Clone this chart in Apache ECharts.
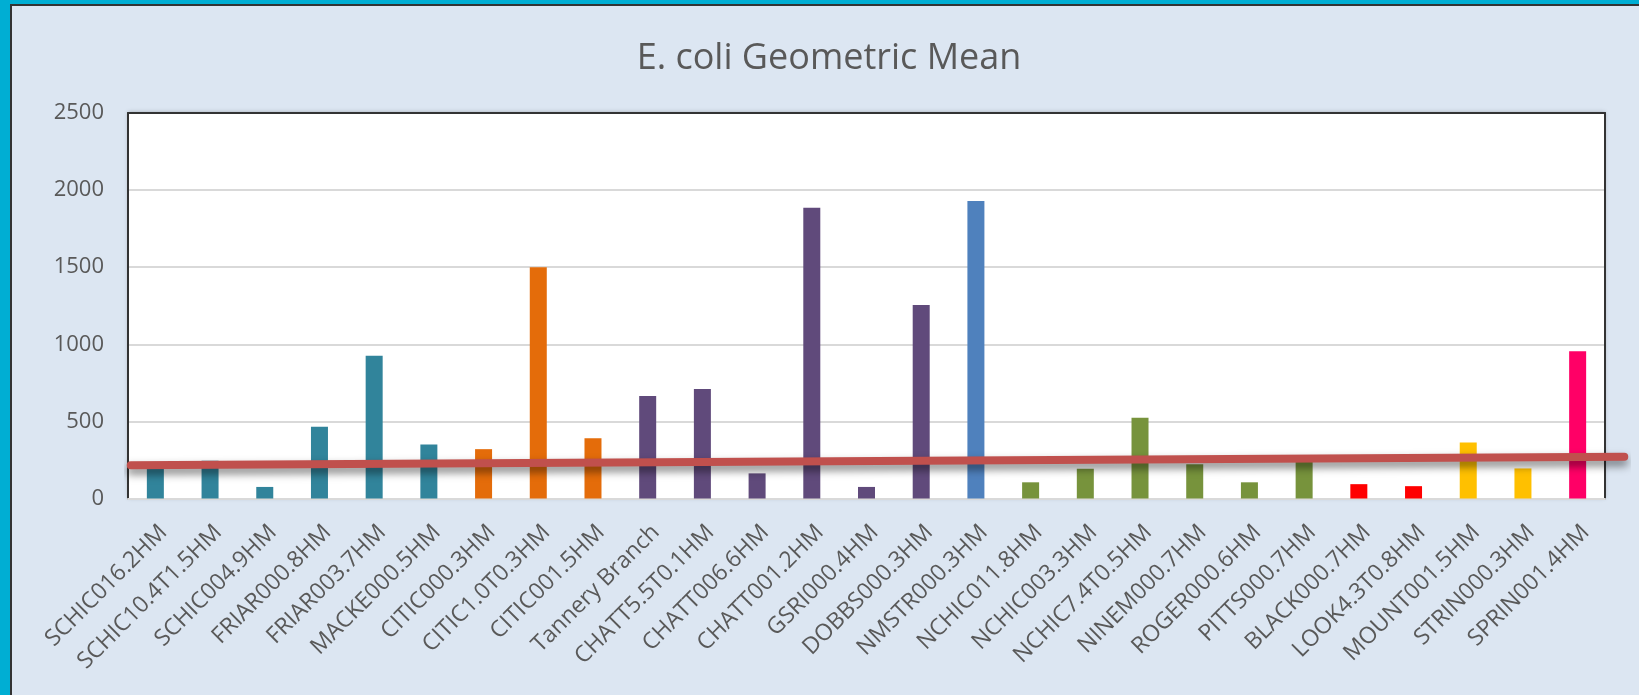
<!DOCTYPE html>
<html>
<head>
<meta charset="utf-8">
<script src="https://cdn.jsdelivr.net/npm/echarts@6/dist/echarts.min.js"></script>
<style>
html,body{margin:0;padding:0;background:#00aed3;}
#chart{width:1639px;height:695px;}
</style>
</head>
<body>
<div id="chart"></div>
<script>
// ---- data ----
const categories = ['SCHIC016.2HM','SCHIC10.4T1.5HM','SCHIC004.9HM','FRIAR000.8HM','FRIAR003.7HM','MACKE000.5HM','CITIC000.3HM','CITIC1.0T0.3HM','CITIC001.5HM','Tannery Branch','CHATT5.5T0.1HM','CHATT006.6HM','CHATT001.2HM','GSRI000.4HM','DOBBS000.3HM','NMSTR000.3HM','NCHIC011.8HM','NCHIC003.3HM','NCHIC7.4T0.5HM','NINEM000.7HM','ROGER000.6HM','PITTS000.7HM','BLACK000.7HM','LOOK4.3T0.8HM','MOUNT001.5HM','STRIN000.3HM','SPRIN001.4HM'];
const geoMean = [200,245,75,465,925,350,320,1500,390,665,710,163,1885,75,1255,1930,105,193,523,222,105,240,93,80,363,195,955];
const groups = ['SCHIC','SCHIC','SCHIC','SCHIC','SCHIC','SCHIC','CITIC','CITIC','CITIC','CHATT','CHATT','CHATT','CHATT','CHATT','CHATT','NMSTR','NCHIC','NCHIC','NCHIC','NCHIC','NCHIC','NCHIC','LOOK','LOOK','MOUNT','MOUNT','SPRIN'];
const trendX = [-0.45, 26.85];
const trendY = [215, 270];
const yTicks = [0, 500, 1000, 1500, 2000, 2500];

// ---- styles ----
const groupColors = {SCHIC:'#31849b', CITIC:'#e46c0a', CHATT:'#604a7b', NMSTR:'#4f81bd', NCHIC:'#77933c', LOOK:'#ff0000', MOUNT:'#ffc000', SPRIN:'#ff0066'};
const FONT = '"Open Sans", "Noto Sans", sans-serif';
const yMin = yTicks[0], yMax = yTicks[yTicks.length-1];

const chart = echarts.init(document.getElementById('chart'), null, {renderer:'canvas'});
chart.setOption({
  backgroundColor: '#00aed3',
  animation: false,
  graphic: [
    {type:'rect', z:-100, silent:true, shape:{x:11, y:5, width:1640, height:700},
     style:{fill:'#dce6f2', stroke:'#333333', lineWidth:2}}
  ],
  title: {
    text: 'E. coli Geometric Mean',
    left: 824, top: 36, textAlign: 'center',
    textStyle: {fontFamily: FONT, fontSize: 36, fontWeight: 'normal', color: '#595959'}
  },
  grid: [{
    left: 128, top: 113, right: 34, bottom: 196.5,
    show: true, backgroundColor: '#ffffff', borderWidth: 0,
    shadowColor: 'rgba(0,0,0,0.25)', shadowBlur: 4, shadowOffsetY: -1
  }, {
    // trendline extends a little past the plot area, as in the source
    left: 128, top: 113, right: 12, bottom: 196.5, show: false
  }],
  xAxis: [{
    type: 'category', data: categories, position: 'bottom', gridIndex: 0,
    axisLine: {show: true, lineStyle: {color: '#d9d9d9', width: 2}},
    axisTick: {show: false},
    axisLabel: {interval: 0, rotate: 45, margin: 22, lineHeight: 23,
      formatter: v => '\n' + v,
      fontFamily: FONT, fontSize: 23, color: '#595959'}
  }, {
    type: 'category', data: categories, position: 'top', gridIndex: 0,
    axisLine: {show: true, onZero: false, lineStyle: {color: '#333333', width: 2}},
    axisTick: {show: false}, axisLabel: {show: false}, splitLine: {show: false}
  }, {
    type: 'value', min: -0.5, max: 26.9, gridIndex: 1, show: false
  }],
  yAxis: [{
    type: 'value', min: yMin, max: yMax, interval: 500, gridIndex: 0,
    axisLine: {show: true, onZero: false, lineStyle: {color: '#333333', width: 2}},
    axisTick: {show: false},
    axisLabel: {margin: 24, fontFamily: FONT, fontSize: 22, color: '#595959', formatter: v => String(v)},
    splitLine: {show: true, lineStyle: {color: '#d9d9d9', width: 2}}
  }, {
    type: 'value', min: yMin, max: yMax, position: 'right', gridIndex: 0,
    axisLine: {show: true, onZero: false, lineStyle: {color: '#333333', width: 2}},
    axisTick: {show: false}, axisLabel: {show: false}, splitLine: {show: false}
  }, {
    type: 'value', min: yMin, max: yMax, gridIndex: 1, show: false
  }],
  series: [{
    type: 'bar', xAxisIndex: 0, yAxisIndex: 0, barWidth: 17,
    data: geoMean.map((v, i) => ({value: v, itemStyle: {color: groupColors[groups[i]]}})),
    z: 2
  }, {
    type: 'line', xAxisIndex: 2, yAxisIndex: 2, clip: false, symbol: 'none',
    data: trendX.map((x, i) => [x, trendY[i]]),
    lineStyle: {color: '#c0504d', width: 8, cap: 'round',
      shadowColor: 'rgba(0,0,0,0.5)', shadowBlur: 8, shadowOffsetY: 5},
    z: 5
  }]
});
</script>
</body>
</html>
